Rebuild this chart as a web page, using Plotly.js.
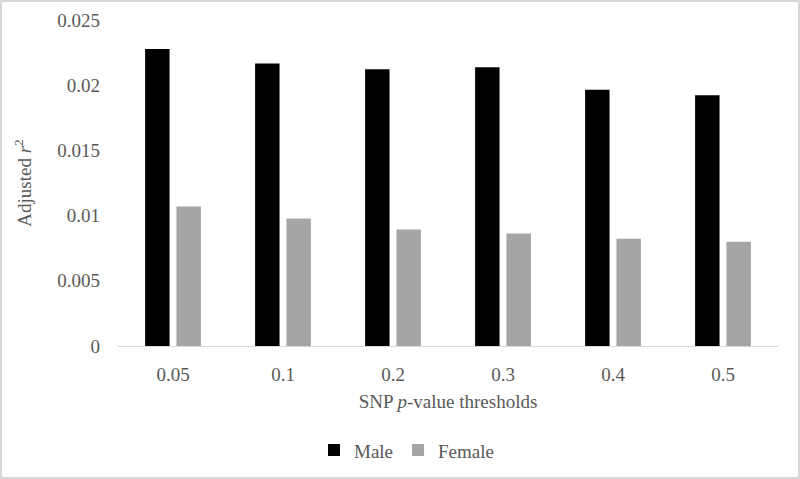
<!DOCTYPE html>
<html>
<head>
<meta charset="utf-8">
<script src="https://cdn.plot.ly/plotly-3.0.1.min.js"></script>
<style>
html,body{margin:0;padding:0;background:#fff;}
#wrap{position:relative;width:800px;height:479px;}
#chart{width:800px;height:479px;}
#frame{position:absolute;left:0;top:0;width:800px;height:479px;box-sizing:border-box;border:2px solid #d9d9d9;pointer-events:none;}
</style>
</head>
<body>
<div id="wrap"><div id="chart"></div><div id="frame"></div></div>
<script>
const categories = ["0.05", "0.1", "0.2", "0.3", "0.4", "0.5"];
const maleValues = [0.02277, 0.02167, 0.02122, 0.02138, 0.01965, 0.01923];
const femaleValues = [0.01069, 0.00978, 0.00893, 0.00862, 0.00823, 0.00800];
const yTickVals = [0, 0.005, 0.01, 0.015, 0.02, 0.025];
const yTickText = ["0", "0.005", "0.01", "0.015", "0.02", "0.025"];

const font = "Liberation Serif";
const gray = "#595959";
const data = [
  {type: "bar", name: "Male", x: categories, y: maleValues, marker: {color: "#000000"}, hoverinfo: "none"},
  {type: "bar", name: "Female", x: categories, y: femaleValues, marker: {color: "#a5a5a5"}, hoverinfo: "none"}
];
const layout = {
  width: 800, height: 479,
  margin: {l: 118, r: 22, t: 20, b: 133, autoexpand: false},
  paper_bgcolor: "#ffffff", plot_bgcolor: "#ffffff",
  font: {family: font, size: 19, color: gray},
  barmode: "group", bargap: 0.43, bargroupgap: 0.22,
  showlegend: true,
  legend: {orientation: "h", xref: "container", yref: "container", x: 0.3925, xanchor: "left", y: 0.06, yanchor: "middle",
           font: {family: font, size: 19, color: gray}, itemwidth: 30, traceorder: "normal"},
  xaxis: {type: "category", automargin: false, showgrid: false, showline: true, linecolor: "#d9d9d9", linewidth: 1,
          ticks: "", ticklabelstandoff: 11, tickfont: {family: font, size: 19, color: gray},
          title: {text: "SNP <i>p</i>-value thresholds", font: {family: font, size: 19, color: gray}, standoff: 10}},
  yaxis: {range: [0, 0.025], automargin: false, tickvals: yTickVals, ticktext: yTickText, showgrid: false, zeroline: false,
          showline: false, ticks: "", ticklabelstandoff: 17,
          tickfont: {family: font, size: 19, color: gray},
          title: {text: "Adjusted <i>r</i><sup>2</sup>", font: {family: font, size: 19, color: gray}, standoff: 20}}
};
Plotly.newPlot("chart", data, layout, {displayModeBar: false, staticPlot: true});
</script>
</body>
</html>
